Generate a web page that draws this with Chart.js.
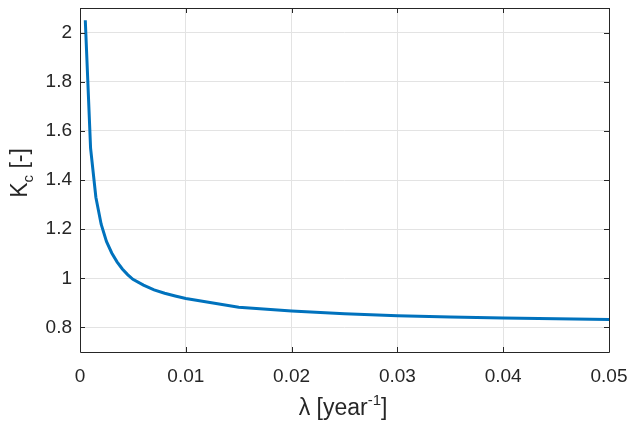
<!DOCTYPE html>
<html>
<head>
<meta charset="utf-8">
<script src="https://cdn.jsdelivr.net/npm/chart.js@4.4.0/dist/chart.umd.min.js"></script>
<style>
  html, body { margin: 0; padding: 0; background: #fff; }
  #wrap { width: 630px; height: 423px; position: relative; }
</style>
</head>
<body>
<div id="wrap"><canvas id="c" width="630" height="423"></canvas></div>
<script>
// Data
const lambdaValues = [0.0005, 0.001, 0.0015, 0.002, 0.0025, 0.003, 0.0035, 0.004, 0.0045, 0.005,
                      0.006, 0.007, 0.008, 0.009, 0.01, 0.015, 0.02, 0.025, 0.03, 0.035, 0.04, 0.045, 0.05];
const kcValues = [2.05, 1.53, 1.33, 1.22, 1.15, 1.103, 1.067, 1.038, 1.015, 0.996,
                  0.972, 0.953, 0.939, 0.928, 0.918, 0.882, 0.867, 0.856, 0.848, 0.842, 0.838, 0.835, 0.832];
const xTicks = [0, 0.01, 0.02, 0.03, 0.04, 0.05];
const yTicks = [0.8, 1, 1.2, 1.4, 1.6, 1.8, 2];
const xLabel = "λ [year";
const xLabelSup = "-1";
const yLabel = "K";
const yLabelSub = "c";
const yLabelRest = " [-]";

const FONT = '"Liberation Sans", Arial, Helvetica, sans-serif';
const AXIS_COLOR = '#262626';

const fmt = v => String(Math.round(v * 1000) / 1000);

const framePlugin = {
  id: 'frame',
  afterDraw(chart) {
    const ctx = chart.ctx;
    const a = chart.chartArea;
    const xs = chart.scales.x, ys = chart.scales.y;
    ctx.save();
    ctx.strokeStyle = AXIS_COLOR;
    ctx.lineWidth = 1;
    ctx.beginPath();
    ctx.rect(Math.round(a.left) + 0.5, Math.round(a.top) + 0.5,
             Math.round(a.right - a.left), Math.round(a.bottom - a.top));
    ctx.stroke();
    const tl = 5;
    ctx.beginPath();
    xTicks.forEach(v => {
      const px = Math.round(xs.getPixelForValue(v)) + 0.5;
      ctx.moveTo(px, a.bottom); ctx.lineTo(px, a.bottom - tl);
      ctx.moveTo(px, a.top); ctx.lineTo(px, a.top + tl);
    });
    yTicks.forEach(v => {
      const py = Math.round(ys.getPixelForValue(v)) + 0.5;
      ctx.moveTo(a.left, py); ctx.lineTo(a.left + tl, py);
      ctx.moveTo(a.right, py); ctx.lineTo(a.right - tl, py);
    });
    ctx.stroke();

    // X axis title with superscript
    ctx.fillStyle = AXIS_COLOR;
    ctx.textBaseline = 'alphabetic';
    const mainF = '23px ' + FONT, smallF = '15px ' + FONT;
    ctx.font = mainF;
    const w1 = ctx.measureText(xLabel).width;
    ctx.font = smallF;
    const w2 = ctx.measureText(xLabelSup).width;
    ctx.font = mainF;
    const w3 = ctx.measureText(']').width;
    const cx = 343;
    let sx = cx - (w1 + w2 + w3) / 2;
    const by = 415;
    ctx.textAlign = 'left';
    ctx.fillText(xLabel, sx, by);
    ctx.font = smallF;
    ctx.fillText(xLabelSup, sx + w1, by - 10);
    ctx.font = mainF;
    ctx.fillText(']', sx + w1 + w2, by);

    // Y axis title with subscript (rotated)
    ctx.save();
    ctx.translate(27, 173);
    ctx.rotate(-Math.PI / 2);
    ctx.font = mainF;
    const k1 = ctx.measureText(yLabel).width;
    ctx.font = smallF;
    const k2 = ctx.measureText(yLabelSub).width;
    ctx.font = mainF;
    const k3 = ctx.measureText(yLabelRest).width;
    let ky = -(k1 + k2 + k3) / 2;
    ctx.fillText(yLabel, ky, 0);
    ctx.font = smallF;
    ctx.fillText(yLabelSub, ky + k1, 6);
    ctx.font = mainF;
    ctx.fillText(yLabelRest, ky + k1 + k2, 0);
    ctx.restore();
    ctx.restore();
  }
};

new Chart(document.getElementById('c'), {
  type: 'line',
  data: {
    datasets: [{
      data: lambdaValues.map((x, i) => ({ x: x, y: kcValues[i] })),
      borderColor: '#0072BD',
      borderWidth: 3,
      pointRadius: 0,
      tension: 0,
      fill: false
    }]
  },
  options: {
    responsive: false,
    animation: false,
    devicePixelRatio: 1,
    layout: { padding: { top: 8, right: 21, left: 0, bottom: 0 } },
    plugins: { legend: { display: false }, tooltip: { enabled: false } },
    scales: {
      x: {
        type: 'linear',
        min: 0, max: 0.05,
        afterBuildTicks: s => { s.ticks = xTicks.map(v => ({ value: v })); },
        afterFit: s => { s.height = 71; s.paddingLeft = 0; s.paddingRight = 0; },
        grid: { color: '#e3e3e3', drawTicks: false },
        border: { display: false },
        ticks: {
          padding: 13,
          color: AXIS_COLOR,
          font: { family: FONT, size: 19 },
          maxRotation: 0,
          callback: v => fmt(v)
        }
      },
      y: {
        type: 'linear',
        min: 0.7, max: 2.1,
        afterBuildTicks: s => { s.ticks = yTicks.map(v => ({ value: v })); },
        afterFit: s => { s.width = 80; s.paddingTop = 0; s.paddingBottom = 0; },
        grid: { color: '#e3e3e3', drawTicks: false },
        border: { display: false },
        ticks: {
          padding: 8,
          color: AXIS_COLOR,
          font: { family: FONT, size: 19 },
          callback: v => fmt(v)
        }
      }
    }
  },
  plugins: [framePlugin]
});
</script>
</body>
</html>
